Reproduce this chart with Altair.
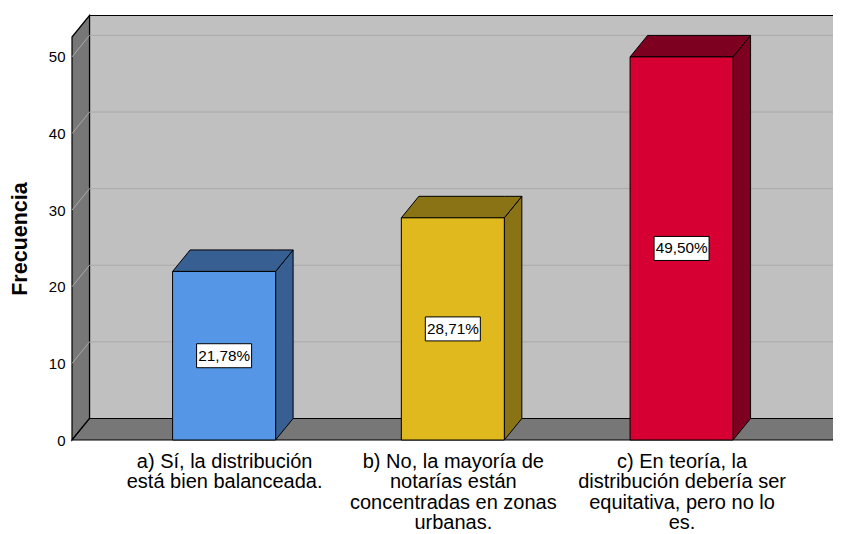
import json
import altair as alt
import pandas as pd

# ---------------- data ----------------
label_lines = [
    ["a) Sí, la distribución", "está bien balanceada."],
    ["b) No, la mayoría de", "notarías están", "concentradas en zonas", "urbanas."],
    ["c) En teoría, la", "distribución debería ser", "equitativa, pero no lo", "es."],
]
frequencies = [22, 29, 50]
percent_labels = ["21,78%", "28,71%", "49,50%"]
y_ticks = [0, 10, 20, 30, 40, 50]
grid_values = [10, 20, 30, 40, 50]

front_colors = ["#5597E6", "#E0B91E", "#D60032"]
side_colors = ["#385F91", "#8A7314", "#7E0021"]

# ---------------- geometry (styling constants) ----------------
W, H = 761, 403
YMAX = 52.6
XMIN, XMAX = -0.665, 2.662
px_x = W / (XMAX - XMIN)
px_y = H / YMAX
DX = 17.5 / px_x           # depth offset in x-units
DY = 21.5 / px_y           # depth offset in y-units
HALF = 51.5 / px_x         # half bar width in x-units

FONT = "Liberation Sans"

xs = alt.Scale(domain=[XMIN, XMAX], nice=False, zero=False)
ys = alt.Scale(domain=[0, YMAX], nice=False, zero=False)

# bar table
bars = pd.DataFrame({
    "i": list(range(len(frequencies))),
    "freq": frequencies,
    "pct": percent_labels,
    "front": front_colors,
    "side": side_colors,
})
bars["L"] = bars["i"] - HALF
bars["R"] = bars["i"] + HALF
bars["mid"] = bars["freq"] / 2

# top faces & side faces as areas
top_rows, side_rows = [], []
for _, b in bars.iterrows():
    v = b["freq"]
    for k, (x, y, y2) in enumerate([(b["L"], v, v), (b["L"] + DX, v + DY, v),
                                    (b["R"], v + DY, v), (b["R"] + DX, v + DY, v + DY)]):
        top_rows.append({"bar": b["i"], "k": k, "x": x, "y": y, "y2": y2, "c": b["side"]})
    for k, (x, y, y2) in enumerate([(b["R"], v, 0), (b["R"] + DX, v + DY, DY)]):
        side_rows.append({"bar": b["i"], "k": k, "x": x, "y": y, "y2": y2, "c": b["side"]})
top_df = pd.DataFrame(top_rows)
side_df = pd.DataFrame(side_rows)

# frame
wall_left = pd.DataFrame({"x": [XMIN, XMIN + DX], "y": [YMAX, YMAX + DY], "y2": [0, DY]})
floor = pd.DataFrame({"x": [XMIN, XMIN + DX, XMAX, XMAX + DX],
                      "y": [0, DY, DY, DY], "y2": [0, 0, 0, DY]})
back = pd.DataFrame({"x": [XMIN + DX], "x2": [XMAX + DX + 0.2], "y": [DY], "y2": [YMAX + DY]})
grid_rows = []
for t in grid_values:
    for k, (x, y) in enumerate([(XMIN, t), (XMIN + DX, t + DY), (XMAX + DX + 0.2, t + DY)]):
        grid_rows.append({"t": t, "k": k, "x": x, "y": y})
grid_df = pd.DataFrame(grid_rows)

# x axis label expression
expr = ""
for i, lines in enumerate(label_lines[:-1]):
    expr += f"datum.value == {i} ? {json.dumps(lines, ensure_ascii=False)} : "
expr += json.dumps(label_lines[-1], ensure_ascii=False)

X_AXIS = alt.Axis(values=[0, 1, 2], labelExpr=expr, title=None, grid=False, ticks=False,
                  domain=False, labelFontSize=20, labelLineHeight=20.6, labelPadding=11,
                  labelFont=FONT, labelColor="#000000", labelOverlap=False, labelLimit=0,
                  labelBound=False, labelFlush=False)
Y_AXIS = alt.Axis(values=y_ticks, title="Frecuencia", grid=False, ticks=False, domain=False,
                  labelFontSize=15, labelPadding=7, labelFont=FONT, labelColor="#000000",
                  titleFont=FONT, titleFontSize=21.5, titleFontWeight="bold", titleColor="#000000",
                  titlePadding=17)

back_layer = alt.Chart(back).mark_rect(fill="#C0C0C0", stroke="#000000", strokeWidth=1.2).encode(
    x=alt.X("x:Q", scale=xs, axis=X_AXIS),
    x2="x2:Q",
    y=alt.Y("y:Q", scale=ys, axis=Y_AXIS),
    y2="y2:Q",
)

left_layer = alt.Chart(wall_left).mark_area(fill="#777777", stroke="#000000", strokeWidth=1.2,
                                            interpolate="linear").encode(
    x=alt.X("x:Q", scale=xs), y=alt.Y("y:Q", scale=ys, stack=None), y2="y2:Q")

floor_layer = alt.Chart(floor).mark_area(fill="#777777", stroke="#000000", strokeWidth=1.2,
                                         interpolate="linear").encode(
    x=alt.X("x:Q", scale=xs), y=alt.Y("y:Q", scale=ys, stack=None), y2="y2:Q")

grid_layer = alt.Chart(grid_df).mark_line(color="#A9A9A9", strokeWidth=1).encode(
    x=alt.X("x:Q", scale=xs), y=alt.Y("y:Q", scale=ys), detail="t:N", order="k:Q")

side_layer = alt.Chart(side_df).mark_area(stroke="#000000", strokeWidth=1,
                                          interpolate="linear").encode(
    x=alt.X("x:Q", scale=xs), y=alt.Y("y:Q", scale=ys, stack=None), y2="y2:Q",
    fill=alt.Fill("c:N", scale=None), detail="bar:N")

top_layer = alt.Chart(top_df).mark_area(stroke="#000000", strokeWidth=1,
                                        interpolate="linear").encode(
    x=alt.X("x:Q", scale=xs), y=alt.Y("y:Q", scale=ys, stack=None), y2="y2:Q",
    fill=alt.Fill("c:N", scale=None), detail="bar:N")

front_layer = alt.Chart(bars).mark_rect(stroke="#000000", strokeWidth=1).encode(
    x=alt.X("L:Q", scale=xs), x2="R:Q",
    y=alt.Y("freq:Q", scale=ys), y2=alt.Y2(datum=0),
    fill=alt.Fill("front:N", scale=None))

box_layer = alt.Chart(bars).mark_rect(fill="#FFFFFF", stroke="#000000", strokeWidth=1,
                                      xOffset=-27.5, x2Offset=27.5, yOffset=-12, y2Offset=12).encode(
    x=alt.X("i:Q", scale=xs), x2="i:Q", y=alt.Y("mid:Q", scale=ys), y2="mid:Q")

text_layer = alt.Chart(bars).mark_text(font=FONT, fontSize=15.3, color="#000000",
                                       align="center", baseline="middle").encode(
    x=alt.X("i:Q", scale=xs), y=alt.Y("mid:Q", scale=ys), text="pct:N")

chart = alt.layer(back_layer, left_layer, floor_layer, grid_layer, side_layer, top_layer,
                  front_layer, box_layer, text_layer).properties(
    width=W, height=H,
    autosize=alt.AutoSizeParams(type="none"),
    padding={"left": 64, "top": 29, "right": 0, "bottom": 94},
    background="#FFFFFF",
).configure_view(stroke=None)

chart.save("out.html", embed_options={"renderer": "svg", "actions": False})
